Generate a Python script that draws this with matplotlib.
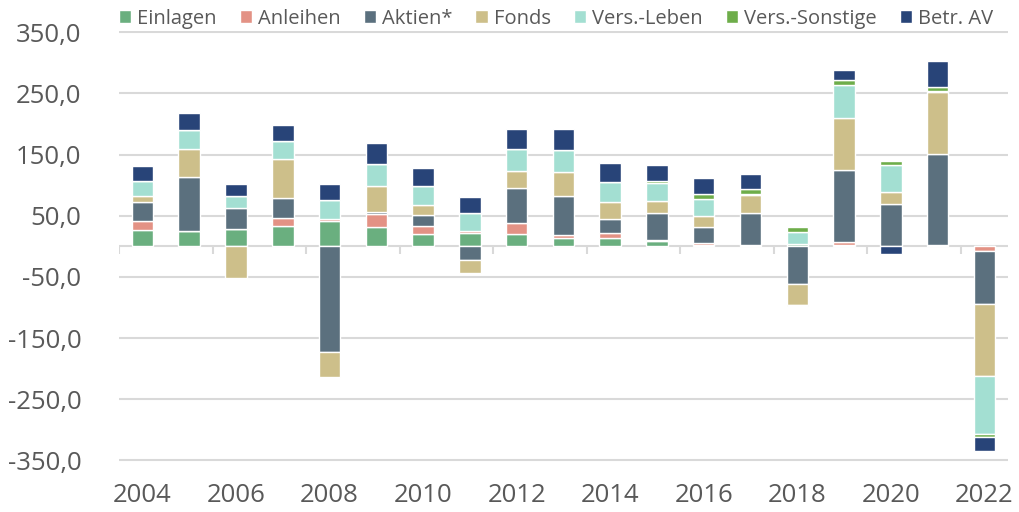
import numpy as np
import matplotlib.pyplot as plt

plt.rcParams['font.family'] = ['Open Sans', 'DejaVu Sans']

years = list(range(2004, 2023))

# Werte in Mrd. Euro
einlagen = [26, 25, 27.6, 33.6, 41, 31, 20.6, 22.2, 20.6, 14, 13, 8.7, 2.7, 0, 4.3, 2, 0, 0, 0]
anleihen = [16, 0, 0, 13, 4.3, 21.7, 12, 3, 17, 3.8, 9.2, 1.5, 2, 2, 0, 5, 0, 2, -7]
aktien = [31, 88, 35, 32, -172.7, 3, 18, -21.6, 57.4, 65, 22.8, 43.9, 27, 53, -61.6, 118, 69, 149, -87]
fonds = [8.7, 46.6, -52, 64.5, -41, 42.8, 16.3, -21.7, 28.2, 39.5, 27.6, 20, 17.3, 29.3, -33.8, 84, 20, 100.8, -117.5]
vers_leben = [25, 30, 20, 28.7, 30, 36.3, 31.4, 29.3, 35.8, 35.2, 32, 29.3, 28.2, 1, 19, 54, 43.3, 2, -95]
vers_sonstige = [0, 0, 0, 0, 0, 0, 0, 0, 0, 0, 0, 3.3, 8.7, 8.7, 8.7, 9.2, 7, 6.5, -5]
betr_av = [24, 27.6, 19.5, 26, 26.5, 34.7, 30.3, 26, 33, 33.6, 30.9, 27, 25, 23.8, -2, 16.8, -12, 42.3, -23]

series = [
    ('Einlagen', einlagen, '#6aaf7f'),
    ('Anleihen', anleihen, '#e39285'),
    ('Aktien*', aktien, '#5b707e'),
    ('Fonds', fonds, '#cdbf8a'),
    ('Vers.-Leben', vers_leben, '#a3dfd2'),
    ('Vers.-Sonstige', vers_sonstige, '#6ead4a'),
    ('Betr. AV', betr_av, '#284478'),
]

fig = plt.figure(figsize=(10.2, 5.12), dpi=100)
ax = fig.add_axes([0.1167, 0.0982, 0.8713, 0.8413])

x = np.arange(len(years))
pos_base = np.zeros(len(years))
neg_base = np.zeros(len(years))
for name, vals, col in series:
    v = np.array(vals, dtype=float)
    bottom = np.where(v >= 0, pos_base, neg_base)
    ax.bar(x, v, 0.46, bottom=bottom, color=col, edgecolor='white',
           linewidth=1, label=name, zorder=3)
    pos_base += np.clip(v, 0, None)
    neg_base += np.clip(v, None, 0)

grid = '#d9d9d9'
txt = '#595959'
ax.set_ylim(-352, 352)
ax.set_xlim(-0.5, len(years) - 0.5)
yt = np.arange(-350, 351, 100)
ax.set_yticks(yt)
ax.set_yticklabels([f'{v:.1f}'.replace('.', ',') for v in yt])
for v in yt:
    ax.axhline(v, color=grid, lw=1.5, zorder=1)

# Nulllinie mit Trennstrichen
ax.axhline(0, color=grid, lw=1.5, zorder=2)
ax.vlines(np.arange(-0.5, len(years), 2), -13, 0, color=grid, lw=1.5, zorder=2)

ax.set_xticks(x[::2])
ax.set_xticklabels([str(y) for y in years[::2]])
ax.tick_params(axis='both', length=0, labelsize=18.5, colors=txt)
ax.tick_params(axis='x', pad=15)
ax.tick_params(axis='y', pad=27)
for s in ax.spines.values():
    s.set_visible(False)

leg = fig.legend(loc='upper center', bbox_to_anchor=(0.545, 1.018), ncol=7,
                 frameon=False, fontsize=14.5, handlelength=0.6,
                 handleheight=0.6, handletextpad=0.3, columnspacing=1.15)
for t in leg.get_texts():
    t.set_color(txt)

fig.savefig('out.png', dpi=100)
